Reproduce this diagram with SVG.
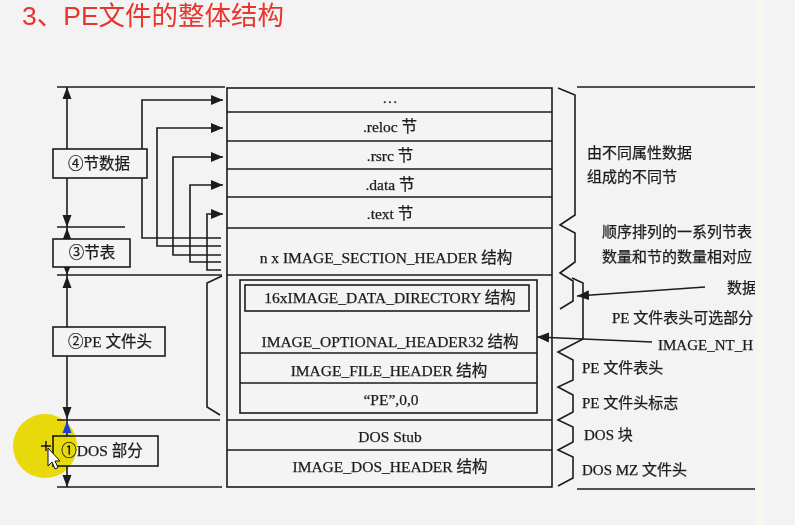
<svg xmlns="http://www.w3.org/2000/svg" width="795" height="525" viewBox="0 0 795 525">
<defs>
<marker id="ah" viewBox="0 0 12 10" refX="12" refY="5" markerWidth="12" markerHeight="10" markerUnits="userSpaceOnUse" orient="auto"><path d="M0,0 L12,5 L0,10 Z" fill="#1c1c1c"/></marker>
<style>
.ln{stroke:#1c1c1c;stroke-width:1.6;fill:none}
.bx{stroke:#1c1c1c;stroke-width:1.6;fill:#f4f4f4}
.t{font-family:"Liberation Serif","Noto Sans CJK SC",serif;font-size:15.5px;fill:#1c1c1c;stroke:#1c1c1c;stroke-width:0.25;text-anchor:middle}
.r{font-family:"Liberation Serif","Noto Sans CJK SC",serif;font-size:15px;fill:#1c1c1c;stroke:#1c1c1c;stroke-width:0.25}
.ar{fill:#1c1c1c}
</style>
</defs>
<rect x="0" y="0" width="795" height="525" fill="#f3f3f3"/>
<text x="22" y="25" font-family="'Liberation Sans','Noto Sans CJK SC',sans-serif" font-size="26.5" fill="#e8362c">3、PE文件的整体结构</text>

<g id="pe-file">
  <rect class="bx" x="227" y="88" width="325" height="399"/>
  <path class="ln" d="M227,112 H552 M227,141 H552 M227,169 H552 M227,197 H552 M227,228 H552 M227,275 H552 M227,420 H552 M227,450 H552"/>
</g>

<g id="connectors">
  <!-- left dimension lines -->
  <path class="ln" d="M67,87 V487"/>
  <path class="ln" d="M57,87 H225 M57,227 H125 M57,275 H222 M57,420 H220 M57,487 H222"/>
  <path class="ar" d="M67,87 L62.5,99 L71.5,99 Z M67,227 L62.5,215 L71.5,215 Z M67,228 L62.5,240 L71.5,240 Z M67,275 L62.5,264 L71.5,264 Z M67,276 L62.5,288 L71.5,288 Z M67,419 L62.5,407 L71.5,407 Z M67,487 L62.5,475 L71.5,475 Z"/>
  <path class="ln" d="M222,276 L207,283 L207,407 L220,415"/>
  <!-- section arrows -->
  <path class="ln" d="M221,238 H142 V100 H223" marker-end="url(#ah)"/>
  <path class="ln" d="M221,246 H157 V128 H223" marker-end="url(#ah)"/>
  <path class="ln" d="M221,255 H173 V157 H223" marker-end="url(#ah)"/>
  <path class="ln" d="M221,262 H190 V185 H223" marker-end="url(#ah)"/>
  <path class="ln" d="M221,270 H207 V214 H223" marker-end="url(#ah)"/>
  <!-- right braces -->
  <path class="ln" d="M577,87 H755 M577,489 H755"/>
  <path class="ln" d="M558,88 L575,95 L575,215 L560,225 L575,233 L575,262 L560,273 L573,281 L573,301 L560,309"/>
  <path class="ln" d="M572,278 L583,283 L583,339 L558,352 L573,360 L573,380 L558,387 L573,395 L573,412 L558,420 L573,427 L573,442 L558,450 L573,457 L573,478 L558,486"/>
  <path class="ln" d="M705,287 L577,296" marker-end="url(#ah)"/>
  <path class="ln" d="M652,342 L537,337" marker-end="url(#ah)"/>
</g>

<g id="row-more"><text class="t" x="390" y="103">…</text></g>
<g id="row-reloc"><text class="t" x="390" y="132">.reloc 节</text></g>
<g id="row-rsrc"><text class="t" x="390" y="161">.rsrc 节</text></g>
<g id="row-data"><text class="t" x="390" y="190">.data 节</text></g>
<g id="row-text"><text class="t" x="390" y="219">.text 节</text></g>
<g id="row-section-header"><text class="t" x="386" y="263">n x IMAGE_SECTION_HEADER 结构</text></g>
<g id="nt-header">
  <rect class="ln" x="240" y="280" width="297" height="133"/>
  <path class="ln" d="M240,353 H537 M240,383 H537"/>
</g>
<g id="data-directory">
  <rect class="ln" x="245" y="285" width="284" height="26"/>
  <text class="t" x="390" y="303">16xIMAGE_DATA_DIRECTORY 结构</text>
</g>
<g id="optional-header"><text class="t" x="390" y="347">IMAGE_OPTIONAL_HEADER32 结构</text></g>
<g id="file-header"><text class="t" x="389" y="376">IMAGE_FILE_HEADER 结构</text></g>
<g id="pe-signature"><text class="t" x="391" y="405">“PE”,0,0</text></g>
<g id="dos-stub"><text class="t" x="390" y="442">DOS Stub</text></g>
<g id="dos-header"><text class="t" x="390" y="472">IMAGE_DOS_HEADER 结构</text></g>

<g id="label-4"><rect class="bx" x="53" y="149" width="94" height="29"/><text class="t" x="99" y="169">④节数据</text></g>
<g id="label-3"><rect class="bx" x="53" y="239" width="77" height="28"/><text class="t" x="92" y="258">③节表</text></g>
<g id="label-2"><rect class="bx" x="53" y="327" width="112" height="29"/><text class="t" x="110" y="347">②PE 文件头</text></g>
<g id="label-1"><rect class="bx" x="53" y="436" width="105" height="30"/><text class="t" x="102" y="456">①DOS 部分</text></g>

<g id="notes">
  <text class="r" x="587" y="158">由不同属性数据</text>
  <text class="r" x="587" y="182">组成的不同节</text>
  <text class="r" x="602" y="237">顺序排列的一系列节表</text>
  <text class="r" x="602" y="262">数量和节的数量相对应</text>
  <text class="r" x="727" y="293">数据</text>
  <text class="r" x="612" y="323">PE 文件表头可选部分</text>
  <text class="r" x="658" y="350">IMAGE_NT_H</text>
  <text class="r" x="582" y="373">PE 文件表头</text>
  <text class="r" x="582" y="408">PE 文件头标志</text>
  <text class="r" x="584" y="440">DOS 块</text>
  <text class="r" x="582" y="475">DOS MZ 文件头</text>
</g>
<rect x="755" y="0" width="40" height="525" fill="#f3f3f3"/>
<rect x="755" y="0" width="10" height="525" fill="#f7f6ef"/>

<circle cx="45" cy="446" r="32" fill="#f3e40a" style="mix-blend-mode:multiply"/>
<path d="M67,421 L62.5,433 L71.5,433 Z" fill="#1a3fd8"/>
<g id="cursor">
  <path d="M41,446 H51 M46,441 V451" stroke="#111" stroke-width="1.4"/>
  <path d="M48,448 L48,466 L52,462 L55,469 L58,467.5 L55,461 L60,461 Z" fill="#fff" stroke="#111" stroke-width="1"/>
</g>
</svg>
